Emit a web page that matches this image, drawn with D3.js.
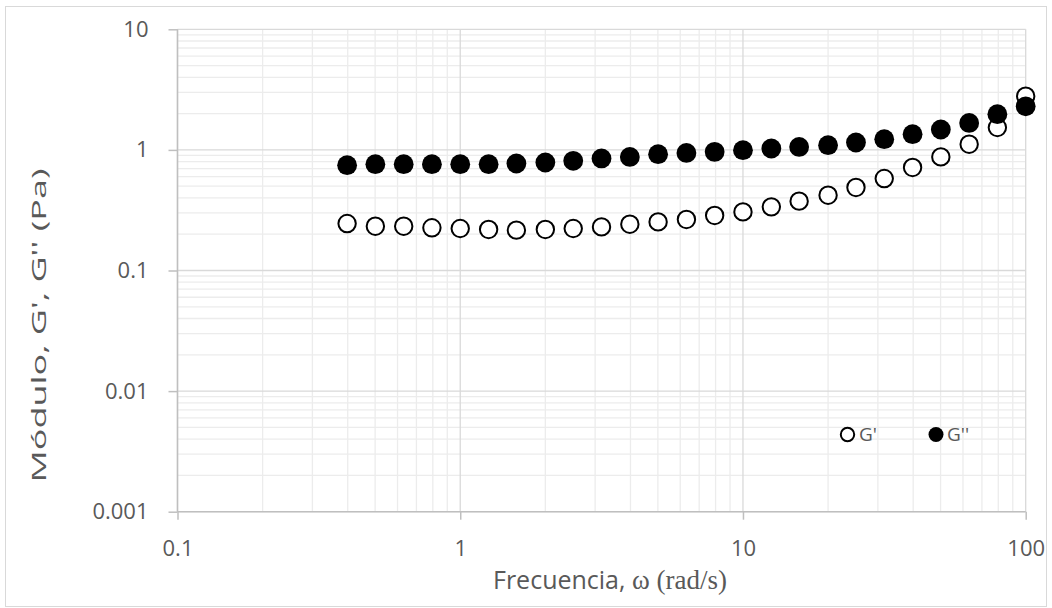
<!DOCTYPE html>
<html><head><meta charset="utf-8">
<script src="https://cdn.jsdelivr.net/npm/d3@7"></script>
<style>body{margin:0;background:#fff}svg{display:block}</style>
</head><body><svg id="c" width="1052" height="608"></svg>
<script>
const freq = [0.398, 0.501, 0.631, 0.794, 1, 1.26, 1.58, 2, 2.51, 3.16, 3.98, 5.01, 6.31, 7.94, 10, 12.6, 15.8, 20, 25.1, 31.6, 39.8, 50.1, 63.1, 79.4, 100];
const gPrime = [0.245, 0.233, 0.233, 0.226, 0.223, 0.219, 0.216, 0.219, 0.223, 0.230, 0.242, 0.253, 0.265, 0.286, 0.306, 0.337, 0.376, 0.421, 0.488, 0.579, 0.715, 0.875, 1.115, 1.534, 2.79];
const gDouble = [0.747, 0.761, 0.761, 0.761, 0.761, 0.761, 0.771, 0.786, 0.811, 0.849, 0.875, 0.921, 0.944, 0.963, 0.994, 1.027, 1.059, 1.094, 1.152, 1.227, 1.35, 1.476, 1.675, 1.977, 2.30];
const xTicks = [0.1, 1, 10, 100];
const xTickLabels = ["0.1", "1", "10", "100"];
const yTicks = [0.001, 0.01, 0.1, 1, 10];
const yTickLabels = ["0.001", "0.01", "0.1", "1", "10"];
const seriesNames = ["G'", "G''"];

const svg = d3.select("#c");
const x = d3.scaleLog().domain([0.1, 100]).range([177.5, 1025.7]);
const y = d3.scaleLog().domain([0.001, 10]).range([511.7, 29.3]);
const txt = "#595959";
const font = "'Open Sans', 'Noto Sans', sans-serif";

svg.append("rect").attr("x", 5.5).attr("y", 6.5).attr("width", 1041).attr("height", 600)
  .attr("fill", "#fff").attr("stroke", "#d9d9d9");

// minor grid
const minorX = [], minorY = [];
for (let d = 0.1; d < 100; d *= 10) for (let k = 2; k <= 9; k++) minorX.push(+(d * k).toPrecision(3));
for (let d = 0.001; d < 10; d *= 10) for (let k = 2; k <= 9; k++) minorY.push(+(d * k).toPrecision(3));
const g = svg.append("g");
g.selectAll(".mx").data(minorX).join("line").attr("x1", d => x(d)).attr("x2", d => x(d))
  .attr("y1", y(10)).attr("y2", y(0.001)).attr("stroke", "#ececec").attr("stroke-width", 1.3);
g.selectAll(".my").data(minorY).join("line").attr("y1", d => y(d)).attr("y2", d => y(d))
  .attr("x1", x(0.1)).attr("x2", x(100)).attr("stroke", "#ececec").attr("stroke-width", 1.3);
g.selectAll(".Mx").data(xTicks).join("line").attr("x1", d => x(d)).attr("x2", d => x(d))
  .attr("y1", y(10)).attr("y2", y(0.001)).attr("stroke", "#d9d9d9").attr("stroke-width", 1.3);
g.selectAll(".My").data(yTicks).join("line").attr("y1", d => y(d)).attr("y2", d => y(d))
  .attr("x1", x(0.1)).attr("x2", x(100)).attr("stroke", "#d9d9d9").attr("stroke-width", 1.3);

// axes
const ax = svg.append("g").attr("transform", `translate(0,${y(0.001)})`)
  .call(d3.axisBottom(x).tickValues(xTicks).tickFormat((d, i) => xTickLabels[i]).tickSize(8).tickPadding(21));
const ay = svg.append("g").attr("transform", `translate(${x(0.1)},0)`)
  .call(d3.axisLeft(y).tickValues(yTicks).tickFormat((d, i) => yTickLabels[i]).tickSize(9).tickPadding(20));
[ax, ay].forEach(a => {
  a.selectAll("path,line").attr("stroke", "#bfbfbf").attr("stroke-width", 1.5);
  a.selectAll("text").attr("fill", txt).attr("font-family", font).attr("font-size", 22);
});
ax.select(".domain").attr("d", `M${x(0.1)},0H${x(100)}`);
ay.select(".domain").attr("d", `M0,${y(10)}V${y(0.001)}`);

// series
svg.append("g").selectAll("circle").data(freq).join("circle")
  .attr("cx", d => x(d)).attr("cy", (d, i) => y(gPrime[i])).attr("r", 8.7)
  .attr("fill", "#fff").attr("stroke", "#000").attr("stroke-width", 2);
svg.append("g").selectAll("circle").data(freq).join("circle")
  .attr("cx", d => x(d)).attr("cy", (d, i) => y(gDouble[i])).attr("r", 9.9)
  .attr("fill", "#000");

// legend
const lg = svg.append("g");
lg.append("circle").attr("cx", 847.5).attr("cy", 434.5).attr("r", 6.7).attr("fill", "#fff").attr("stroke", "#000").attr("stroke-width", 2);
lg.append("text").attr("x", 859).attr("y", 434.5).attr("dy", "0.36em").attr("fill", txt).attr("font-family", font).attr("font-size", 19).text(seriesNames[0]);
lg.append("circle").attr("cx", 936).attr("cy", 434.5).attr("r", 7.5).attr("fill", "#000");
lg.append("text").attr("x", 947).attr("y", 434.5).attr("dy", "0.36em").attr("fill", txt).attr("font-family", font).attr("font-size", 19).text(seriesNames[1]);

// titles
const xt = svg.append("text").attr("x", 610).attr("y", 589).attr("text-anchor", "middle")
  .attr("fill", txt).attr("font-size", 25);
xt.append("tspan").attr("font-family", font).text("Frecuencia, ");
xt.append("tspan").attr("font-family", "'Liberation Serif', serif").attr("font-size", 27).text("ω (rad/s)");
svg.append("text").attr("transform", "translate(46,325.5) rotate(-90)").attr("text-anchor", "middle")
  .attr("fill", txt).attr("font-family", font).attr("font-size", 20)
  .attr("textLength", 314).attr("lengthAdjust", "spacingAndGlyphs").text("Módulo, G', G'' (Pa)");
</script></body></html>
